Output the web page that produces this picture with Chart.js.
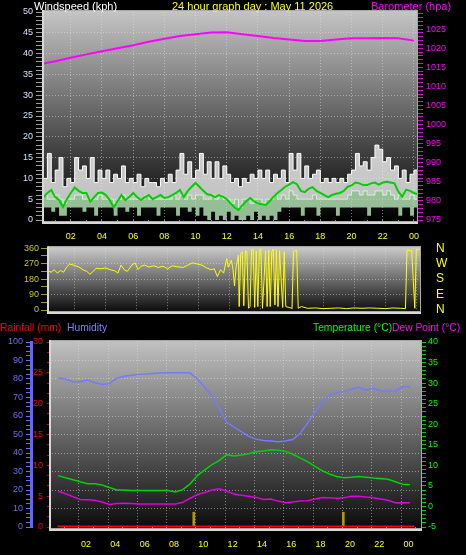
<!DOCTYPE html>
<html>
<head>
<meta charset="utf-8">
<script src="https://cdn.jsdelivr.net/npm/chart.js@4.4.1/dist/chart.umd.min.js"></script>
<style>
body { margin: 0; background: #000; }
#wrap { position: relative; width: 466px; height: 555px; background: #000; overflow: hidden; font-family: "Liberation Sans", Arial, sans-serif; font-size: 11px; }
#wrap canvas { position: absolute; left: 0; }
.t { position: absolute; white-space: nowrap; line-height: 13px; }
.b { font-size: 10.3px; }
</style>
</head>
<body>
<div id="wrap">
    <canvas id="c_wind" width="466" height="243" style="top:0px"></canvas>
    <canvas id="c_dir" width="466" height="80" style="top:240px"></canvas>
    <canvas id="c_temp" width="466" height="235" style="top:320px"></canvas>
    <div class="t" style="left:34px;top:0px;color:#fff">Windspeed (kph)</div>
    <div class="t" style="left:172px;top:0px;color:#ffff00">24 hour graph day : May 11 2026</div>
    <div class="t" style="left:371px;top:0px;color:#ff00ff">Barometer (hpa)</div>
    <div class="t b" style="left:0px;top:321px;color:#ff0000">Rainfall (mm)</div>
    <div class="t b" style="left:67px;top:321px;color:#8080ff">Humidity</div>
    <div class="t b" style="left:313px;top:321px;color:#00ff00">Temperature (°C)</div>
    <div class="t b" style="left:392px;top:321px;color:#ff00ff">Dew Point (°C)</div>
</div>
<script>
// wind, every 15 min from 00:15
const gust = [10, 16, 9, 12, 15, 8, 10, 9, 15, 12, 13, 10, 15, 9, 12, 10,
    12, 9, 11, 10, 13, 9, 10, 9, 11, 8, 10, 9, 9, 8, 10, 9,
    11, 9, 12, 16, 11, 14, 10, 12, 16, 11, 14, 10, 14, 10, 13, 11,
    9, 10, 8, 10, 9, 11, 10, 12, 10, 12, 9, 11, 10, 12, 9, 16,
    12, 16, 10, 13, 10, 11, 12, 9, 10, 9, 10, 9, 10, 9, 11, 12,
    16, 13, 14, 12, 15, 18, 17, 14, 15, 12, 13, 10, 12, 9, 11, 12, 10];
const speedHi = [6, 5, 5, 6, 5, 4, 5, 5, 6, 6, 5, 5, 5, 5, 6, 5,
    5, 5, 4, 5, 6, 5, 5, 5, 5, 5, 6, 5, 5, 5, 5, 5,
    5, 6, 5, 6, 5, 6, 5, 6, 6, 5, 5, 6, 5, 6, 5, 5,
    4, 5, 3, 5, 5, 4, 5, 5, 4, 5, 5, 6, 5, 6, 5, 7,
    6, 5, 5, 5, 5, 6, 5, 5, 5, 5, 5, 5, 5, 5, 6, 7,
    7, 6, 7, 6, 6, 7, 7, 6, 7, 6, 5, 6, 5, 5, 6, 5, 5];
const speedLo = [3, 3, 2, 3, 1, 1, 3, 3, 3, 3, 2, 3, 3, 1, 3, 3,
    3, 3, 1, 3, 3, 2, 3, 3, 1, 3, 3, 3, 3, 1, 3, 3,
    3, 3, 1, 3, 3, 2, 3, 1, 3, 1, 0, 2, 0, 1, 0, 2,
    0, 1, 0, 0, 1, 0, 2, 0, 1, 0, 1, 0, 2, 3, 3, 3,
    3, 3, 1, 3, 3, 3, 1, 3, 3, 3, 3, 1, 3, 3, 3, 3,
    3, 3, 3, 1, 3, 3, 3, 3, 3, 3, 3, 1, 3, 3, 1, 3, 3];
const speedAvg = [5.5, 6.5, 7.2, 5.5, 4.8, 3.1, 5, 6.5, 7.8, 7, 6.5, 6.5, 4.4, 5.5, 6.5, 6.6,
    6, 4.8, 3, 4.5, 6, 4.8, 5.5, 6.5, 5.5, 4.8, 5.5, 6, 5, 5.5, 6, 5.3,
    5.5, 6, 6.5, 7.2, 5.5, 7, 8, 8.9, 8, 7, 6.2, 6, 5.5, 6, 5.6, 5,
    4, 3, 2.4, 3.5, 4.5, 5.3, 4.5, 4, 3.8, 3.6, 4.5, 5.6, 6.5, 7.2, 8, 8.5,
    9.1, 8.6, 7, 6.7, 7.5, 7.9, 7, 6.5, 6, 5.5, 6, 6.3, 6.5, 7, 8, 8.3,
    9, 8.8, 8.4, 8.4, 8.8, 9, 8.5, 9, 9.2, 9, 8.8, 6.8, 5.6, 7.3, 7, 6.5, 6.2];
const windHours = [];
for (let i = 0; i < gust.length; i++) windHours.push(0.25 + i * 0.25);

// barometer
const baroHours = [0.25, 1, 2, 3, 4, 5, 6, 7, 8, 9, 10, 11, 12, 13, 14, 15, 16, 17, 18, 19, 20, 21, 22, 23, 24];
const baroHpa = [1016.0, 1016.6, 1017.5, 1018.4, 1019.2, 1020.0, 1020.8, 1021.7, 1022.5, 1023.2, 1023.7, 1024.1, 1024.2,
    1023.7, 1023.2, 1022.7, 1022.3, 1021.9, 1021.9, 1022.3, 1022.6, 1022.6, 1022.7, 1022.6, 1022.0];

// wind direction
const dirHours = [0.25, 0.5, 0.7, 0.9, 1.1, 1.3, 1.5, 1.7, 2.0, 2.3, 2.6, 2.8, 3.0, 3.2, 3.4, 3.7, 4.0, 4.3, 4.6, 4.8,
    5.0, 5.2, 5.4, 5.7, 5.9, 6.1, 6.3, 6.5, 6.8, 7.1, 7.4, 7.7, 8.0, 8.3, 8.6, 9.0, 9.3, 9.6, 9.9, 10.2,
    10.5, 10.8, 11.0, 11.2, 11.4, 11.6, 11.8, 11.9, 12.1, 12.2, 12.3, 12.4, 12.55, 12.6, 12.7, 12.8, 12.9, 13.0, 13.1, 13.2,
    13.3, 13.4, 13.5, 13.6, 13.7, 13.8, 13.9, 14.0, 14.1, 14.3, 14.4, 14.5, 14.6, 14.7, 14.8, 14.9, 15.0, 15.1, 15.2, 15.4,
    15.5, 15.6, 15.8, 16.0, 16.1, 16.3, 16.4, 16.6, 17.0, 17.5, 18, 18.5, 19, 19.5, 20, 20.5, 21, 21.5, 22, 22.5,
    23, 23.3, 23.4, 23.7, 23.9, 24.0, 24.25];
const dirDeg = [230, 220, 235, 215, 230, 220, 250, 268, 260, 250, 232, 225, 208, 225, 243, 240, 245, 235, 228, 215,
    262, 235, 225, 262, 275, 236, 255, 262, 250, 258, 248, 255, 240, 258, 252, 248, 262, 275, 268, 262,
    245, 235, 240, 195, 235, 215, 300, 250, 290, 240, 140, 250, 320, 20, 330, 340, 25, 345, 340, 10,
    20, 350, 355, 15, 345, 20, 350, 355, 10, 345, 20, 350, 20, 340, 355, 30, 350, 20, 345, 15,
    340, 20, 15, 10, 340, 350, 10, 20, 10, 12, 8, 10, 12, 8, 12, 10, 12, 10, 8, 12,
    10, 8, 350, 345, 10, 350, 355];

// temperature / humidity / dew point, every 30 min
const climHours = [];
for (let i = 0; i < 49; i++) climHours.push(0.1 + i * 0.5);
const humidity = [80.5, 80, 78.5, 78.5, 79.5, 78, 77, 77.5, 80.4, 81.5,
    82, 82.5, 82.7, 83, 83.2, 83.4, 83.4, 83.4, 83.2, 80,
    75.5, 71, 64, 56.5, 54, 51.5, 49, 47.5, 46.8, 46.5,
    46.1, 46.5, 47.3, 50.5, 56, 62, 67.5, 71.4, 72.5, 73.3,
    74.5, 75.5, 74, 75, 73.7, 73.5, 73.5, 75.8, 75.8];
const temperature = [7.5, 7.0, 6.5, 6.0, 5.5, 5.5, 5.2, 4.6, 4.0, 4.0,
    3.9, 3.9, 3.9, 3.9, 3.9, 3.9, 3.5, 4.1, 5.5, 7.5,
    8.9, 10.2, 11.2, 12.6, 12.3, 12.5, 12.8, 13.3, 13.5, 13.8,
    13.7, 13.4, 12.7, 11.8, 10.9, 9.8, 8.7, 7.9, 7.3, 7.0,
    7.1, 7.3, 7.1, 6.9, 6.8, 6.6, 6.0, 5.4, 5.3];
const dewPoint = [3.7, 3.1, 2.4, 1.7, 1.6, 1.5, 1.1, 0.5, 0.7, 0.8,
    0.7, 0.6, 0.6, 0.6, 0.6, 0.6, 0.6, 1.0, 2.0, 2.9,
    3.4, 4.0, 4.3, 3.7, 3.0, 2.7, 2.5, 2.2, 1.7, 1.8,
    1.3, 0.9, 1.1, 1.3, 1.4, 1.8, 2.2, 2.1, 2.0, 2.1,
    2.5, 2.5, 2.3, 2.1, 1.8, 1.5, 0.9, 0.9, 0.9];
const rainHours = [0.05, 24.4];
const rainMm = [0, 0];
const rainRateHours = [9.35, 19.55];
const rainRate = [2.4, 2.4];

const dirNames = { 0: 'N', 90: 'E', 180: 'S', 270: 'W', 360: 'N' };
const gridCol = 'rgba(225,225,225,0.5)';

Chart.defaults.font.family = '"Liberation Sans", Arial, sans-serif';
Chart.defaults.font.size = 9;
Chart.defaults.animation = false;
Chart.defaults.plugins.legend.display = false;
Chart.defaults.plugins.tooltip.enabled = false;

function pts(xs, ys) {
    return ys.map((v, i) => ({ x: xs[i], y: v }));
}
function ticksEvery(lo, hi, step) {
    const t = [];
    for (let v = lo; v <= hi + 1e-9; v += step) t.push({ value: +v.toFixed(4) });
    return t;
}
function isMult(v, m) {
    return Math.abs(v / m - Math.round(v / m)) < 1e-6;
}

// gradient plot background + light frame
const plotBg = {
    id: 'plotBg',
    beforeDraw(chart, args, opts) {
        const { ctx, chartArea: a } = chart;
        const g = ctx.createLinearGradient(0, a.top, 0, a.bottom);
        g.addColorStop(0, opts.top);
        g.addColorStop(1, opts.bottom);
        ctx.save();
        ctx.fillStyle = g;
        ctx.fillRect(a.left, a.top - 2, a.right - a.left, a.bottom - a.top + 4);
        ctx.restore();
    },
    afterDraw(chart) {
        const { ctx, chartArea: a } = chart;
        ctx.save();
        ctx.strokeStyle = '#a8a8a8';
        ctx.lineWidth = 1;
        ctx.strokeRect(a.left + 0.5, a.top - 1.5, a.right - a.left - 1, a.bottom - a.top + 3);
        ctx.strokeStyle = '#d8d8d8';
        ctx.lineWidth = 2;
        ctx.beginPath();
        ctx.moveTo(a.left, a.top - 2);
        ctx.lineTo(a.left, a.bottom + 3);
        ctx.lineTo(a.right, a.bottom + 3);
        ctx.stroke();
        ctx.restore();
    }
};

function hourAxis(min, max, labelH, pad) {
    return {
        type: 'linear',
        min: min,
        max: max,
        afterBuildTicks: (s) => { s.ticks = ticksEvery(1, 24, 1); },
        afterFit: (s) => { s.height = labelH; },
        ticks: {
            display: labelH > 0,
            autoSkip: false,
            maxRotation: 0,
            color: '#ffff00',
            padding: pad,
            callback: (v) => v % 2 === 0 ? String(v % 24).padStart(2, '0') : ''
        },
        grid: {
            color: (c) => c.tick && c.tick.value % 2 === 0 ? gridCol : 'transparent',
            tickColor: '#8a8a8a',
            tickLength: 3,
            drawTicks: labelH > 0
        },
        border: { display: false, dash: [1, 2] }
    };
}

// top: wind speed + barometer
let chart1 = new Chart(document.getElementById('c_wind'), {
    type: 'line',
    data: {
        datasets: [{
            label: 'Barometer',
            data: pts(baroHours, baroHpa),
            yAxisID: 'yB',
            borderColor: '#ff00ff',
            borderWidth: 2,
            pointRadius: 0,
            order: 0
        }, {
            label: 'Average speed',
            data: pts(windHours, speedAvg),
            yAxisID: 'y',
            borderColor: '#00d000',
            borderWidth: 2,
            pointRadius: 0,
            order: 1
        }, {
            label: 'Speed low',
            data: pts(windHours, speedLo),
            yAxisID: 'y',
            stepped: true,
            borderWidth: 0,
            borderColor: 'rgba(0,0,0,0)',
            pointRadius: 0,
            fill: false,
            order: 4
        }, {
            label: 'Speed',
            data: pts(windHours, speedHi),
            yAxisID: 'y',
            stepped: true,
            borderColor: 'rgba(215,255,215,0.9)',
            borderWidth: 1,
            backgroundColor: 'rgba(185,235,185,0.8)',
            pointRadius: 0,
            fill: { target: 2 },
            order: 3
        }, {
            label: 'Gust',
            data: pts(windHours, gust),
            yAxisID: 'y',
            stepped: true,
            borderColor: '#ffffff',
            borderWidth: 1,
            backgroundColor: 'rgba(245,245,245,0.78)',
            pointRadius: 0,
            fill: { target: 3 },
            order: 5
        }]
    },
    options: {
        responsive: false,
        layout: { padding: { top: 12, bottom: 0, left: 0, right: 0 } },
        plugins: { plotBg: { top: '#c4c4c4', bottom: '#000000' } },
        scales: {
            x: hourAxis(0.22, 24.26, 23, 8),
            y: {
                position: 'left',
                min: 0,
                max: 50,
                afterBuildTicks: (s) => { s.ticks = ticksEvery(0, 50, 1); },
                afterFit: (s) => { s.width = 43; },
                ticks: { autoSkip: false, color: '#d0e0ff', padding: 3, callback: (v) => isMult(v, 5) ? v : '' },
                grid: {
                    color: (c) => c.tick && isMult(c.tick.value, 5) && c.tick.value > 0 && c.tick.value < 50 ? gridCol : 'transparent',
                    tickColor: '#9a9a9a',
                    tickLength: 7
                },
                border: { display: false, dash: [1, 2] }
            },
            yB: {
                position: 'right',
                min: 975,
                max: 1029.5,
                afterBuildTicks: (s) => { s.ticks = ticksEvery(975, 1029, 1); },
                afterFit: (s) => { s.width = 48; },
                ticks: { autoSkip: false, color: '#ff00ff', padding: 3, callback: (v) => isMult(v, 5) ? v : '' },
                grid: { drawOnChartArea: false, tickColor: '#e000e0', tickLength: 5 },
                border: { display: false }
            }
        }
    },
    plugins: [plotBg]
});

// middle: wind direction
let chart2 = new Chart(document.getElementById('c_dir'), {
    type: 'line',
    data: {
        datasets: [{
            label: 'Direction',
            data: pts(dirHours, dirDeg),
            yAxisID: 'yD',
            borderColor: '#ffff00',
            borderWidth: 1,
            pointRadius: 0
        }]
    },
    options: {
        responsive: false,
        layout: { padding: { top: 6, bottom: 10, left: 0, right: 0 } },
        plugins: { plotBg: { top: '#c8c8c8', bottom: '#101010' } },
        scales: {
            x: hourAxis(0.3, 24.3, 0, 0),
            yD: {
                position: 'left',
                min: 0,
                max: 360,
                afterBuildTicks: (s) => { s.ticks = ticksEvery(0, 360, 45); },
                afterFit: (s) => { s.width = 48; },
                ticks: { autoSkip: false, color: '#c8c800', padding: 2, callback: (v) => isMult(v, 90) ? v : '' },
                grid: {
                    color: (c) => c.tick && isMult(c.tick.value, 90) && c.tick.value > 0 && c.tick.value < 360 ? gridCol : 'transparent',
                    tickColor: '#a0a000',
                    tickLength: 7
                },
                border: { display: false, dash: [1, 2] }
            },
            yN: {
                position: 'right',
                min: 0,
                max: 360,
                afterBuildTicks: (s) => { s.ticks = ticksEvery(0, 360, 90); },
                afterFit: (s) => { s.width = 45; },
                ticks: { autoSkip: false, color: '#ffff00', padding: 1, font: { size: 12 }, callback: (v) => dirNames[v] },
                grid: { drawOnChartArea: false, tickColor: 'transparent', tickLength: 14 },
                border: { display: false }
            }
        }
    },
    plugins: [plotBg]
});

// bottom: humidity, temperature, dew point, rain
let chart3 = new Chart(document.getElementById('c_temp'), {
    type: 'line',
    data: {
        datasets: [{
            label: 'Humidity',
            data: pts(climHours, humidity),
            yAxisID: 'yH',
            borderColor: '#7878ff',
            borderWidth: 1.5,
            pointRadius: 0
        }, {
            label: 'Temperature',
            data: pts(climHours, temperature),
            yAxisID: 'yT',
            borderColor: '#00d400',
            borderWidth: 1.5,
            pointRadius: 0
        }, {
            label: 'Dew Point',
            data: pts(climHours, dewPoint),
            yAxisID: 'yT',
            borderColor: '#e000e0',
            borderWidth: 1.5,
            pointRadius: 0
        }, {
            label: 'Rainfall',
            data: pts(rainHours, rainMm),
            yAxisID: 'yR',
            borderColor: '#ff0000',
            borderWidth: 3,
            pointRadius: 0
        }, {
            type: 'bar',
            label: 'Rain rate',
            data: pts(rainRateHours, rainRate),
            yAxisID: 'yR',
            backgroundColor: '#b09a00',
            barThickness: 2
        }]
    },
    options: {
        responsive: false,
        layout: { padding: { top: 22, bottom: 0, left: 0, right: 0 } },
        plugins: { plotBg: { top: '#c0c0c0', bottom: '#0c0c0c' } },
        scales: {
            x: hourAxis(0.07, 24.39, 28, 9),
            yH: {
                position: 'left',
                weight: 1,
                min: 0,
                max: 100,
                afterBuildTicks: (s) => { s.ticks = ticksEvery(0, 100, 2.5); },
                afterFit: (s) => { s.width = 31; },
                ticks: { autoSkip: false, color: '#6a6aff', padding: 3, callback: (v) => isMult(v, 10) ? v : '' },
                grid: {
                    color: (c) => c.tick && isMult(c.tick.value, 10) && c.tick.value > 0 && c.tick.value < 100 ? gridCol : 'transparent',
                    tickColor: '#6a6aff',
                    tickLength: 5
                },
                border: { display: true, color: '#6464ff', width: 3, dash: [1, 2] }
            },
            yR: {
                position: 'left',
                weight: 0,
                min: 0,
                max: 30,
                afterBuildTicks: (s) => { s.ticks = ticksEvery(0, 30, 5 / 3); },
                afterFit: (s) => { s.width = 19; },
                ticks: { autoSkip: false, color: '#ff0000', padding: 4, callback: (v) => isMult(v, 5) ? Math.round(v) : '' },
                grid: { drawOnChartArea: false, tickColor: '#e00000', tickLength: 3 },
                border: { display: false }
            },
            yT: {
                position: 'right',
                min: -5,
                max: 40,
                afterBuildTicks: (s) => { s.ticks = ticksEvery(-5, 40, 1); },
                afterFit: (s) => { s.width = 44; },
                ticks: { autoSkip: false, color: '#00ff00', padding: 2, callback: (v) => isMult(v, 5) ? v : '' },
                grid: { drawOnChartArea: false, tickColor: '#00c800', tickLength: 4 },
                border: { display: false }
            }
        }
    },
    plugins: [plotBg]
});
</script>
</body>
</html>
